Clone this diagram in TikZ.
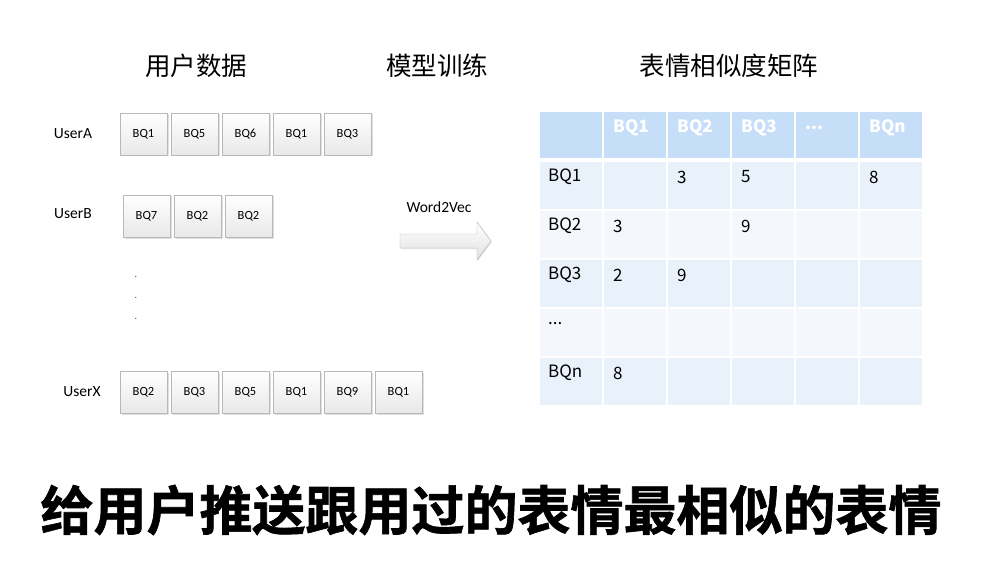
\documentclass[tikz,border=0pt]{standalone}
\usepackage{fontspec}
\setmainfont{Carlito}
\newfontfamily\cjk{Noto Sans CJK SC}
\newfontfamily\cjkheavy[FakeBold=1.2]{Noto Sans CJK SC Bold}
\usetikzlibrary{shadows}
\definecolor{headblue}{RGB}{198,222,248}
\definecolor{rowdark}{RGB}{233,241,251}
\definecolor{rowlight}{RGB}{244,248,253}
\newcommand{\bqstep}{51}
\newcommand{\colstep}{64}
\newcommand{\rowstep}{49}
\newcommand{\moredots}{...}
\tikzset{%
  bqbox/.style={draw=black!28, top color=white, bottom color=black!9,
    minimum width=47pt, minimum height=42pt, inner sep=0pt,
    font=\fontsize{12.5}{14}\selectfont,
    drop shadow={shadow xshift=1.5pt, shadow yshift=-1.5pt, opacity=0.25}},
  username/.style={font=\fontsize{15.5}{18}\selectfont},
  heading/.style={font=\cjk\fontsize{25.5}{30}\selectfont},
  cell/.style={minimum width=62pt, minimum height=47pt, inner sep=0pt, anchor=north west},
  celltext/.style={anchor=west, inner sep=0pt, font=\cjk\fontsize{17}{20}\selectfont},
  headtext/.style={celltext, text=white, font=\cjk\bfseries\fontsize{17}{20}\selectfont}
}
\begin{document}
\begin{tikzpicture}[x=1pt,y=-1pt]
\useasboundingbox (0,0) rectangle (982,580);

% headings
\node[heading] (hdata) at (196,66) {用户数据};
\node[heading] (htrain) at (437,66) {模型训练};
\node[heading] (hmatrix) at (729,66) {表情相似度矩阵};

% user sequences
\node[username] (userA) at (73,134) {UserA};
\foreach \t [count=\i] in {BQ1,BQ5,BQ6,BQ1,BQ3}
  \node[bqbox] (a\i) at ({143.5+\bqstep*(\i-1)},134) {\t};

\node[username] (userB) at (73,214) {UserB};
\foreach \t [count=\i] in {BQ7,BQ2,BQ2}
  \node[bqbox] (b\i) at ({146.5+\bqstep*(\i-1)},216) {\t};

\foreach \y [count=\i] in {277,298,319}
  \node[inner sep=0pt, font=\fontsize{10}{10}\selectfont, text=black!75] (dot\i) at (136,\y) {.};

\node[username] (userX) at (82,392) {UserX};
\foreach \t [count=\i] in {BQ2,BQ3,BQ5,BQ1,BQ9,BQ1}
  \node[bqbox] (x\i) at ({143.5+\bqstep*(\i-1)},392) {\t};

% word2vec arrow
\node[font=\fontsize{15.5}{18}\selectfont] (w2v) at (439,207) {Word2Vec};
\coordinate (tail) at (400,241);
\draw[draw=black!30, top color=white, bottom color=black!12,
      drop shadow={shadow xshift=1pt, shadow yshift=-1pt, opacity=0.2}]
  (tail) ++(0,-7) -- ++(77,0) -- ++(0,-12) -- ++(14,19) -- ++(-14,19)
  -- ++(0,-12) -- ++(-77,0) -- cycle;

% similarity matrix
\foreach \c in {1,...,6}
  \node[cell, fill=headblue, minimum height=46pt] (h\c) at ({540+\colstep*(\c-1)},112) {};
\foreach \r in {1,...,5} {
  \pgfmathsetmacro{\shade}{mod(\r,2)==1 ? "rowdark" : "rowlight"}
  \foreach \c in {1,...,6}
    \node[cell, fill=\shade] (m\r-\c) at ({540+\colstep*(\c-1)},{162+\rowstep*(\r-1)}) {};
}
\foreach \t [count=\c from 2] in {BQ1,BQ2,BQ3,\moredots,BQn}
  \node[headtext] (ht\c) at ([xshift=9pt,yshift=-15.5pt]h\c.north west) {\t};

\node[celltext] (t1-1) at ([xshift=8pt,yshift=-15pt]m1-1.north west) {BQ1};
\node[celltext] (t1-3) at ([xshift=9pt,yshift=-15pt]m1-3.north west) {3};
\node[celltext] (t1-4) at ([xshift=9pt,yshift=-15pt]m1-4.north west) {5};
\node[celltext] (t1-6) at ([xshift=9pt,yshift=-15pt]m1-6.north west) {8};
\node[celltext] (t2-1) at ([xshift=8pt,yshift=-15pt]m2-1.north west) {BQ2};
\node[celltext] (t2-2) at ([xshift=9pt,yshift=-15pt]m2-2.north west) {3};
\node[celltext] (t2-4) at ([xshift=9pt,yshift=-15pt]m2-4.north west) {9};
\node[celltext] (t3-1) at ([xshift=8pt,yshift=-15pt]m3-1.north west) {BQ3};
\node[celltext] (t3-2) at ([xshift=9pt,yshift=-15pt]m3-2.north west) {2};
\node[celltext] (t3-3) at ([xshift=9pt,yshift=-15pt]m3-3.north west) {9};
\node[celltext] (t4-1) at ([xshift=8pt,yshift=-15pt]m4-1.north west) {\moredots};
\node[celltext] (t5-1) at ([xshift=8pt,yshift=-15pt]m5-1.north west) {BQn};
\node[celltext] (t5-2) at ([xshift=9pt,yshift=-15pt]m5-2.north west) {8};

% bottom line
\node[font=\cjkheavy\fontsize{53}{60}\selectfont] (title) at (491,510) {给用户推送跟用过的表情最相似的表情};
\end{tikzpicture}
\end{document}
